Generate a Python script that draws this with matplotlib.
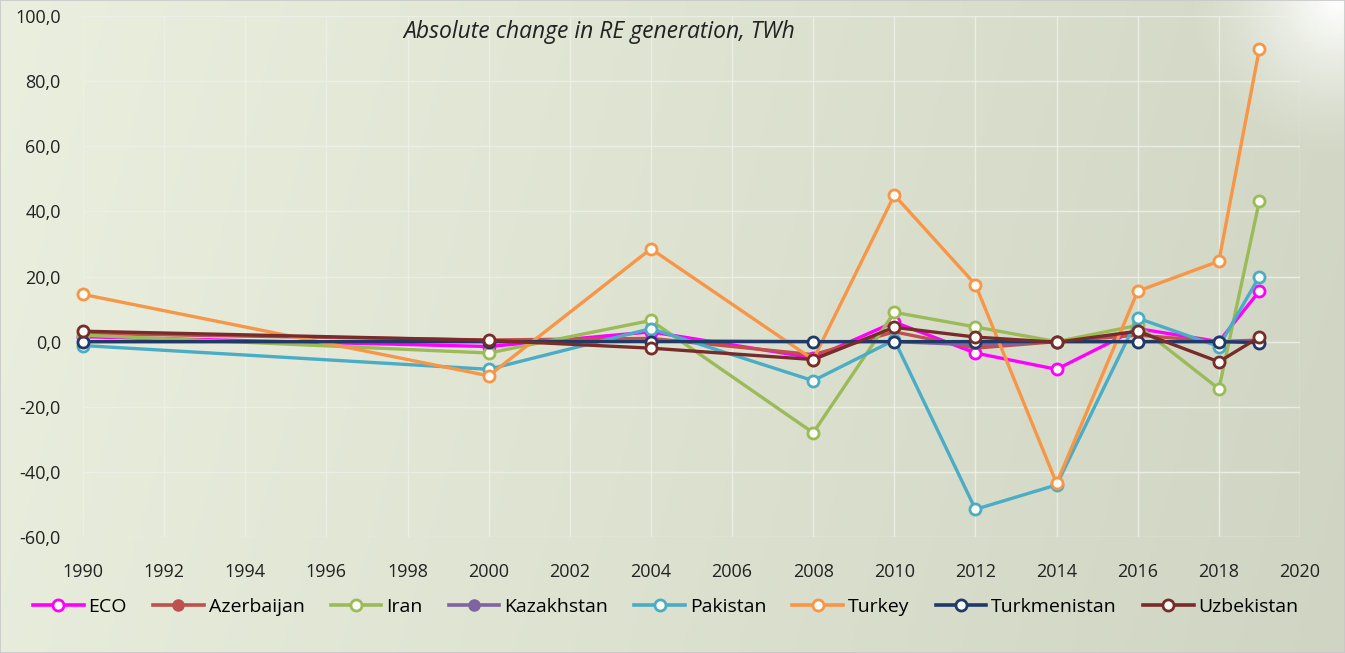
import matplotlib

matplotlib.use("Agg")
import matplotlib.pyplot as plt
import numpy as np
from matplotlib.lines import Line2D
from matplotlib.ticker import FuncFormatter, MultipleLocator

# ── data (TWh, absolute change in RE generation) ─────────────────────────────
years = [1990, 2000, 2004, 2008, 2010, 2012, 2014, 2016, 2018, 2019]
eco = [1.5, -1.5, 3.0, -5.0, 6.0, -3.5, -8.5, 4.0, 0.0, 15.5]
azerbaijan = [2.5, 0.5, 1.0, -4.0, 3.0, -2.0, 0.0, 2.0, 0.0, 0.5]
iran = [2.0, -3.5, 6.5, -28.0, 9.0, 4.5, 0.0, 5.0, -14.5, 43.3]
kazakhstan = [0.0, 0.0, 0.3, 0.0, 0.0, -1.0, 0.0, 0.0, 0.0, 0.0]
pakistan = [-1.2, -8.5, 4.0, -12.0, 0.5, -51.5, -44.0, 7.2, -1.5, 20.0]
turkey = [14.5, -10.5, 28.5, -5.5, 45.0, 17.5, -43.5, 15.5, 24.7, 90.0]
turkmenistan = [0.0, 0.0, 0.0, 0.0, 0.0, 0.0, 0.0, 0.0, 0.0, -0.3]
uzbekistan = [3.2, 0.4, -2.0, -5.5, 4.4, 1.4, -0.2, 3.2, -6.2, 1.4]

series = [
    ("ECO", eco, "#ff00ff", True),
    ("Azerbaijan", azerbaijan, "#c0504d", False),
    ("Iran", iran, "#9bbb59", True),
    ("Kazakhstan", kazakhstan, "#8064a2", False),
    ("Pakistan", pakistan, "#4bacc6", True),
    ("Turkey", turkey, "#f79646", True),
    ("Turkmenistan", turkmenistan, "#1f3a68", True),
    ("Uzbekistan", uzbekistan, "#772c2a", True),
]

W, H = 1345, 653
fig = plt.figure(figsize=(W / 100, H / 100), dpi=100)

# background gradient (light sage, darker to the right, glow top-right)
bg = fig.add_axes([0, 0, 1, 1], zorder=-10)
gx, gy = np.meshgrid(np.linspace(0, 1, 400), np.linspace(0, 1, 200))
left = np.array([0.905, 0.925, 0.86])
right = np.array([0.815, 0.835, 0.765])
img = left[None, None, :] * (1 - gx[..., None]) + right[None, None, :] * gx[..., None]
img = img + 0.012 * (1 - gy[..., None])
d = np.sqrt(((gx - 0.995) * 2.2) ** 2 + (gy - 0.0) ** 2)
glow = np.clip(1 - d / 0.24, 0, 1) ** 1.4
img = img * (1 - glow[..., None]) + glow[..., None] * 1.0
bg.imshow(np.clip(img, 0, 1), aspect="auto", extent=[0, 1, 0, 1], origin="upper")
bg.set_axis_off()
bg.add_patch(plt.Rectangle((0, 0), 1, 1, fill=False, edgecolor="#c8c8c8",
                           linewidth=1.2, transform=bg.transAxes))

ax = fig.add_axes([83 / W, 1 - 537 / H, (1300 - 83) / W, (537 - 16) / H])
ax.patch.set_alpha(0)

for name, vals, color, open_marker in series:
    if open_marker:
        ax.plot(years, vals, "-o", color=color, lw=2.4, markersize=8,
                markerfacecolor="#fbfcf6", markeredgecolor=color, markeredgewidth=2.0,
                label=name, clip_on=False)
    else:
        ax.plot(years, vals, "-", color=color, lw=2.4, label=name, clip_on=False)

ax.set_xlim(1990, 2020)
ax.set_ylim(-60, 100)
ax.xaxis.set_major_locator(MultipleLocator(2))
ax.yaxis.set_major_locator(MultipleLocator(20))
ax.yaxis.set_major_formatter(FuncFormatter(lambda v, _: f"{v:.1f}".replace(".", ",")))
ax.grid(True, color="#eef0e8", linewidth=1.0, alpha=0.9)
ax.set_axisbelow(True)
for s in ax.spines.values():
    s.set_visible(False)
ax.tick_params(axis="y", length=0, labelsize=13, colors="#222222", pad=16)
ax.tick_params(axis="x", length=0, labelsize=13, colors="#222222", pad=19)
for lab in ax.get_yticklabels() + ax.get_xticklabels():
    lab.set_family("Open Sans")

ax.text(0.263, 0.97, "Absolute change in RE generation, TWh", transform=ax.transAxes,
        fontsize=16.5, style="italic", family="Open Sans", color="#222222",
        ha="left", va="center")

handles = []
for name, vals, color, open_marker in series:
    if open_marker:
        handles.append(Line2D([], [], color=color, lw=2.6, marker="o", markersize=8,
                              markerfacecolor="#fbfcf6", markeredgecolor=color,
                              markeredgewidth=2.0))
    else:
        handles.append(Line2D([], [], color=color, lw=2.6, marker="o", markersize=8,
                              markerfacecolor=color, markeredgecolor=color))
leg = fig.legend(handles, [s[0] for s in series], loc="center", ncol=8,
                 bbox_to_anchor=(0.495, 1 - 607 / H), frameon=False,
                 prop={"family": "Open Sans", "size": 14},
                 handlelength=2.6, handletextpad=0.25, columnspacing=1.35)

fig.savefig("out.png", dpi=100)
